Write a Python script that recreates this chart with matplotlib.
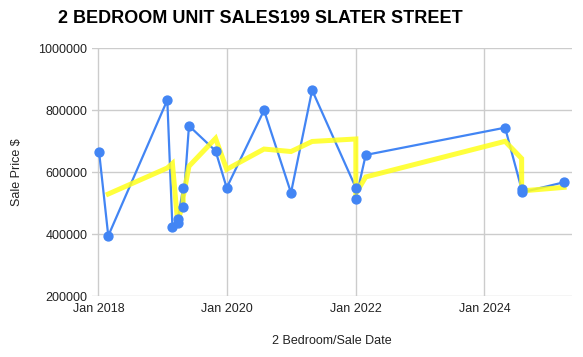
#!/usr/bin/env python3
"""2 bedroom unit sales at 199 Slater Street, with a 2-point moving average trend."""

import matplotlib
matplotlib.use('Agg')
import matplotlib.pyplot as plt
import matplotlib.dates as mdates
import numpy as np
import pandas as pd

# Sale dates and prices, in the order the chart connects them
sale_dates = [
    '2018-01-05', '2018-02-26', '2019-01-27', '2019-02-25', '2019-03-28',
    '2019-03-28', '2019-04-27', '2019-04-27', '2019-05-30', '2019-10-28',
    '2019-12-30', '2020-07-29', '2020-12-29', '2021-04-28', '2022-01-01',
    '2022-01-01', '2022-02-26', '2024-04-27', '2024-07-30', '2024-07-30',
    '2025-03-28',
]
sale_prices = [
    665000, 395000, 833000, 424000, 437000,
    450000, 550000, 489000, 750000, 669000,
    550000, 800000, 534000, 865000, 550000,
    514000, 656000, 744000, 545000, 535000,
    568000,
]

y_ticks = [200000, 400000, 600000, 800000, 1000000]
x_ticks = ['2018-01-01', '2020-01-01', '2022-01-01', '2024-01-01']
x_range = ['2017-11-24', '2025-05-10']

BLUE = '#4285f4'
YELLOW = '#ffff1a'
GRID = '#cccccc'

plt.rcParams['font.family'] = ['Liberation Sans', 'DejaVu Sans']

dates = pd.to_datetime(sale_dates)
prices = pd.Series(sale_prices, dtype=float)
# moving average trendline over 2 periods
trend = prices.rolling(2).mean()

fig = plt.figure(figsize=(5.83, 3.57), dpi=100)
ax = fig.add_axes([0.1573, 0.17, 0.8233, 0.6947])

ax.plot(dates, prices, color=BLUE, lw=1.6, zorder=2)
ax.plot(dates, trend, color=YELLOW, lw=3.6, alpha=0.85, zorder=3,
        solid_joinstyle='miter')
ax.plot(dates, prices, ls='none', marker='o', ms=6.4, color=BLUE, zorder=4)

ax.set_xlim(pd.to_datetime(x_range))
ax.set_ylim(y_ticks[0], y_ticks[-1])
ax.set_yticks(y_ticks)
ax.set_yticklabels([str(v) for v in y_ticks])
ax.set_xticks(pd.to_datetime(x_ticks))
ax.xaxis.set_major_formatter(mdates.DateFormatter('%b %Y'))

ax.grid(True, color=GRID, lw=1)
ax.set_axisbelow(True)
for s in ax.spines.values():
    s.set_visible(False)
ax.tick_params(length=0, labelsize=9, colors='#222222')
ax.tick_params(axis='y', pad=3)
ax.tick_params(axis='x', pad=5)

ax.set_ylabel('Sale Price $', fontsize=9, color='#222222')
ax.yaxis.set_label_coords(-0.143, 0.5)
ax.set_xlabel('2 Bedroom/Sale Date', fontsize=9, color='#222222', labelpad=14)

fig.text(0.446, 0.947, '2 BEDROOM UNIT SALES199 SLATER STREET',
         ha='center', va='center', fontsize=13, fontweight='bold', color='black')

fig.savefig('out.png', dpi=100)
